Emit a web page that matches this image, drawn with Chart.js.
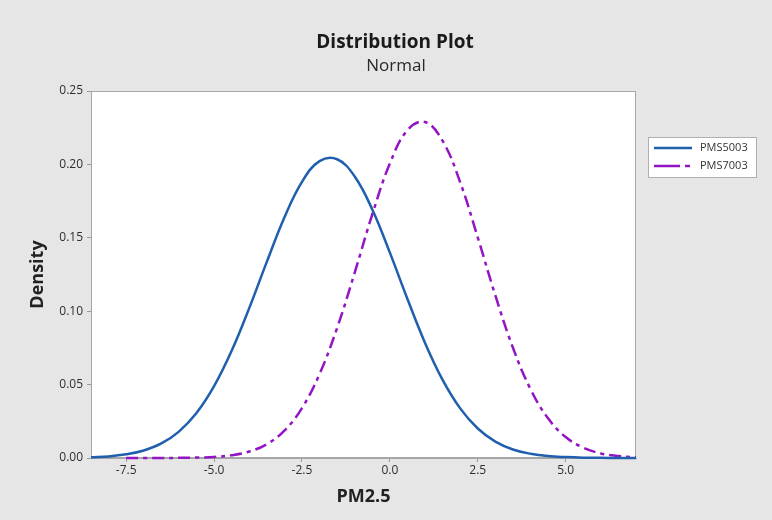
<!DOCTYPE html>
<html>
<head>
<meta charset="utf-8">
<script src="https://cdn.jsdelivr.net/npm/chart.js@4.4.1/dist/chart.umd.min.js"></script>
<style>
  html, body { margin: 0; padding: 0; background: #e6e6e6; }
  canvas { display: block; }
</style>
</head>
<body>
<canvas id="distChart" width="772" height="520"></canvas>
<script>
// Distribution plot - Normal, PMS5003 vs PMS7003

const xValues = [
  -8.5, -8.0, -7.5, -7.0, -6.5, -6.0, -5.5, -5.0, -4.5, -4.0, -3.5, -3.0, -2.5, -2.0, -1.5, -1.0,
  -0.5, 0.0, 0.5, 1.0, 1.5, 2.0, 2.5, 3.0, 3.5, 4.0, 4.5, 5.0, 5.5, 6.0, 6.5, 7.0,
];
const pms5003 = [
  0.0005, 0.0011, 0.0025, 0.0051, 0.0099, 0.0180, 0.0306, 0.0489, 0.0730, 0.1021, 0.1336, 0.1638,
  0.1881, 0.2022, 0.2035, 0.1918, 0.1693, 0.1399, 0.1083, 0.0784, 0.0532, 0.0338, 0.0201, 0.0112,
  0.0058, 0.0029, 0.0013, 0.0006, 0.0002, 0.0001, 0.0000, 0.0000,
];
const pms7003 = [
  null, null, 0.0000, 0.0000, 0.0000, 0.0001, 0.0003, 0.0007, 0.0019, 0.0044, 0.0094, 0.0186,
  0.0340, 0.0572, 0.0886, 0.1263, 0.1659, 0.2006, 0.2233, 0.2289, 0.2160, 0.1878, 0.1502, 0.1107,
  0.0751, 0.0469, 0.0270, 0.0143, 0.0070, 0.0031, 0.0013, 0.0005,
];
const xTicks = [-7.5, -5.0, -2.5, 0.0, 2.5, 5.0];
const yTicks = [0.0, 0.05, 0.10, 0.15, 0.20, 0.25];
const seriesNames = ["PMS5003", "PMS7003"];

const blueColor = "#1f5fad";
const purpleColor = "#9414c4";
const purpleDash = [12, 5, 4, 5];

//Global Options
Chart.defaults.font.family = "'Open Sans', sans-serif";
Chart.defaults.font.size = 12;
Chart.defaults.color = "#2e2e2e";

// background + white plot area
const plotBackground = {
  id: "plotBackground",
  beforeDraw(chart) {
    const ctx = chart.ctx;
    const a = chart.chartArea;
    ctx.save();
    ctx.fillStyle = "#e6e6e6";
    ctx.fillRect(0, 0, chart.width, chart.height);
    ctx.fillStyle = "#ffffff";
    ctx.fillRect(a.left, a.top, a.right - a.left, a.bottom - a.top);
    ctx.strokeStyle = "#a6a6a6";
    ctx.lineWidth = 1;
    ctx.strokeRect(a.left + 0.5, a.top + 0.5, a.right - a.left - 1, a.bottom - a.top - 1);
    ctx.restore();
  },
};

// title, subtitle and boxed legend
const headerAndLegend = {
  id: "headerAndLegend",
  afterDraw(chart) {
    const ctx = chart.ctx;
    ctx.save();
    ctx.textAlign = "center";
    ctx.textBaseline = "middle";
    ctx.fillStyle = "#1a1a1a";
    ctx.font = "bold 19px 'Open Sans', sans-serif";
    ctx.fillText("Distribution Plot", 395, 43);
    ctx.fillStyle = "#2a2a2a";
    ctx.font = "17px 'Open Sans', sans-serif";
    ctx.fillText("Normal", 396, 66);

    // legend box
    ctx.fillStyle = "#ffffff";
    ctx.fillRect(648, 137, 109, 41);
    ctx.strokeStyle = "#b0b0b0";
    ctx.lineWidth = 1;
    ctx.strokeRect(648.5, 137.5, 108, 40);

    ctx.lineWidth = 2.5;
    ctx.strokeStyle = blueColor;
    ctx.beginPath();
    ctx.moveTo(654, 148);
    ctx.lineTo(692, 148);
    ctx.stroke();

    ctx.strokeStyle = purpleColor;
    ctx.setLineDash([26, 5, 5, 5]);
    ctx.beginPath();
    ctx.moveTo(654, 166);
    ctx.lineTo(692, 166);
    ctx.stroke();
    ctx.setLineDash([]);

    ctx.textAlign = "left";
    ctx.fillStyle = "#333333";
    ctx.font = "11px 'Open Sans', sans-serif";
    ctx.fillText(seriesNames[0], 700, 148);
    ctx.fillText(seriesNames[1], 700, 166);
    ctx.restore();
  },
};

// setup
const data = {
  datasets: [
    {
      label: seriesNames[0],
      data: xValues.map((x, i) => ({ x: x, y: pms5003[i] })),
      borderColor: blueColor,
      backgroundColor: blueColor,
      borderWidth: 2.5,
      pointRadius: 0,
      tension: 0.4,
      clip: 4,
    },
    {
      label: seriesNames[1],
      data: xValues.map((x, i) => ({ x: x, y: pms7003[i] })),
      borderColor: purpleColor,
      backgroundColor: purpleColor,
      borderWidth: 2.5,
      borderDash: purpleDash,
      pointRadius: 0,
      tension: 0.4,
      clip: 4,
    },
  ],
};

//config
const config = {
  type: "line",
  data: data,
  plugins: [plotBackground, headerAndLegend],
  options: {
    responsive: false,
    animation: false,
    layout: {
      padding: { left: 0, top: 91, right: 136, bottom: 0 },
    },
    scales: {
      x: {
        type: "linear",
        min: -8.5,
        max: 7.0,
        afterBuildTicks: (scale) => {
          scale.ticks = xTicks.map((v) => ({ value: v }));
        },
        afterFit: (scale) => {
          scale.height = 62;
        },
        ticks: {
          maxRotation: 0,
          padding: 1,
          callback: (value) => value.toFixed(1),
        },
        grid: {
          drawOnChartArea: false,
          tickLength: 4,
          color: "#9a9a9a",
        },
        border: { color: "#a6a6a6" },
        title: {
          display: true,
          text: "PM2.5",
          color: "#222222",
          font: { size: 18, weight: "bold" },
          padding: { top: 0, bottom: 12 },
        },
      },
      y: {
        min: 0,
        max: 0.25,
        afterBuildTicks: (scale) => {
          scale.ticks = yTicks.map((v) => ({ value: v }));
        },
        afterFit: (scale) => {
          scale.width = 91;
        },
        ticks: {
          padding: 4,
          callback: (value) => value.toFixed(2),
        },
        grid: {
          drawOnChartArea: false,
          tickLength: 4,
          color: "#9a9a9a",
        },
        border: { color: "#a6a6a6" },
        title: {
          display: true,
          text: "Density",
          color: "#222222",
          font: { size: 18, weight: "bold" },
          padding: { top: 27, bottom: 0 },
        },
      },
    },
    plugins: {
      legend: { display: false },
      tooltip: { enabled: false },
    },
  },
};

//render init block
const distChart = new Chart(document.getElementById("distChart").getContext("2d"), config);
</script>
</body>
</html>
